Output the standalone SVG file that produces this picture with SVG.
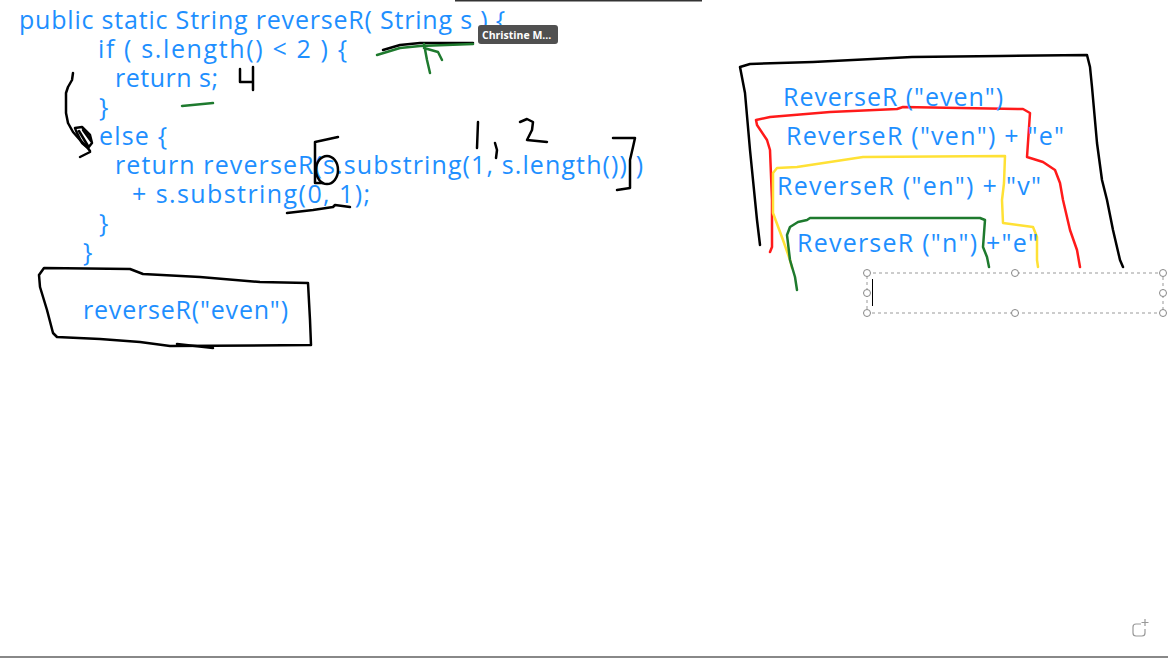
<svg xmlns="http://www.w3.org/2000/svg" width="1168" height="658" viewBox="0 0 1168 658">
<style>
.code{font-family:"Open Sans","Noto Sans","Liberation Sans",sans-serif;font-size:25px;fill:#1E8FFF}
.ink{fill:none;stroke:#000;stroke-width:2.5;stroke-linejoin:round;stroke-linecap:round}
.red{fill:none;stroke:#FF1A1A;stroke-width:2.5;stroke-linejoin:round;stroke-linecap:round}
.yel{fill:none;stroke:#FFE135;stroke-width:2.5;stroke-linejoin:round;stroke-linecap:round}
.grn{fill:none;stroke:#1E7A2E;stroke-width:2.5;stroke-linejoin:round;stroke-linecap:round}
.handle{fill:#fff;stroke:#888;stroke-width:1}
</style>
<rect width="1168" height="658" fill="#fff"/>
<line x1="455" y1="0.5" x2="702" y2="0.5" stroke="#333" stroke-width="2"/>
<line x1="0" y1="657" x2="1168" y2="657" stroke="#888" stroke-width="2"/>

<g id="code">
<text class="code" x="19" y="29" textLength="486" lengthAdjust="spacing">public static String reverseR( String s ) {</text>
<text class="code" x="98" y="58" textLength="249" lengthAdjust="spacing">if ( s.length() &lt; 2 ) {</text>
<text class="code" x="115" y="87" textLength="103" lengthAdjust="spacing">return s;</text>
<text class="code" x="99" y="116">}</text>
<text class="code" x="99" y="145" textLength="68" lengthAdjust="spacing">else {</text>
<text class="code" x="115" y="174" textLength="528" lengthAdjust="spacing">return reverseR(s.substring(1, s.length()) )</text>
<text class="code" x="132" y="203" textLength="238" lengthAdjust="spacing">+ s.substring(0, 1);</text>
<text class="code" x="99" y="232">}</text>
<text class="code" x="83" y="261">}</text>
</g>

<g id="call-box">
<path class="ink" d="M44,268 L130,269 L143,274 L200,277 L260,282 L308,283 L310,320 L311,345 L170,346 L140,342 L100,339 L57,337 L53,333 L47,310 L40,287 L39,275 Z"/>
<path class="ink" d="M177,344 L213,348"/>
<text class="code" x="83" y="319" textLength="205" lengthAdjust="spacing">reverseR("even")</text>
</g>

<g id="annotations">
<path class="ink" d="M383,50 L400,45 L420,43 L473,43"/>
<path class="grn" stroke-width="4" d="M377,55 L400,48 L420,46 L473,44"/>
<path class="grn" stroke-width="3" d="M424,44 L427,60 L430,73 M424,48 L438,52 L442,60"/>
<path class="grn" stroke-width="3.5" d="M182,106 L213,103"/>
<path class="ink" d="M240,69 L240,82 L253,82 M253,67 L253,90"/>
<path class="ink" d="M73,73 L72,80 L68,87 L66,93 L66,113 L68,123 L73,132 L80,140 L87,147 L90,151"/>
<path class="ink" d="M75,128 L82,127 L90,135 L92,143 L88,148 L82,143 L77,133 Z M79,131 L88,146 M83,130 L91,141 M80,157 L90,152"/>
<path class="ink" d="M315,142 L338,137 M315,142 L315,183 L323,183"/>
<ellipse class="ink" cx="327" cy="170" rx="11" ry="14"/>
<path class="ink" d="M287,213 L313,210 L333,207 L335,205 L350,207"/>
<path class="ink" d="M478,122 L477,148 M495,143 L497,150 L496,158"/>
<path class="ink" d="M520,122 L527,119 L533,122 L532,130 L527,140 L547,142"/>
<path class="ink" d="M613,138 L635,138 L633,147 L630,160 L630,188 L617,190"/>
</g>

<g id="tooltip">
<rect x="478" y="25" width="80" height="19" rx="3" fill="#505050"/>
<text x="482" y="38.5" font-family="'Open Sans','Noto Sans','Liberation Sans',sans-serif" font-size="10.5" font-weight="bold" fill="#fff">Christine M...</text>
</g>

<g id="stack">
<path class="ink" d="M760,245 L757,220 L753,180 L750,150 L745,93 L740,67 L750,64 L813,62 L912,57 L1000,56 L1087,55 L1090,67 L1092,87 L1097,143 L1102,180 L1107,200 L1113,230 L1120,260 L1123,267"/>
<path class="red" d="M770,252 L772,247 L772,200 L770,150 L767,140 L757,125 L756,120 L770,117 L830,112 L897,109 L903,107 L1023,109 L1030,113 L1027,157 L1043,162 L1055,170 L1060,183 L1063,200 L1070,230 L1077,250 L1080,267"/>
<path class="yel" d="M792,268 L790,260 L783,240 L773,213 L773,180 L773,173 L777,168 L797,167 L863,157 L1005,156 L1004,183 L1002,200 L1003,223 L1033,227 L1037,237 L1037,260 L1038,267"/>
<path class="grn" d="M797,290 L795,277 L790,260 L787,235 L790,227 L798,222 L807,220 L810,218 L980,218 L985,220 L983,247 L987,257 L989,267"/>
<text class="code" x="783" y="106" textLength="220" lengthAdjust="spacing">ReverseR ("even")</text>
<text class="code" x="786" y="145" textLength="278" lengthAdjust="spacing">ReverseR ("ven") + "e"</text>
<text class="code" x="777" y="195" textLength="264" lengthAdjust="spacing">ReverseR ("en") + "v"</text>
<text class="code" x="797" y="252" textLength="241" lengthAdjust="spacing">ReverseR ("n") +"e"</text>
</g>

<g id="textbox">
<rect x="867" y="273" width="296" height="40" fill="none" stroke="#999" stroke-width="1" stroke-dasharray="3,3"/>
<line x1="872.5" y1="279" x2="872.5" y2="306" stroke="#000" stroke-width="1"/>
<circle class="handle" cx="867" cy="273" r="3.5"/>
<circle class="handle" cx="1015" cy="273" r="3.5"/>
<circle class="handle" cx="1163" cy="273" r="3.5"/>
<circle class="handle" cx="867" cy="293" r="3.5"/>
<circle class="handle" cx="1163" cy="293" r="3.5"/>
<circle class="handle" cx="867" cy="313" r="3.5"/>
<circle class="handle" cx="1015" cy="313" r="3.5"/>
<circle class="handle" cx="1163" cy="313" r="3.5"/>
</g>

<g id="corner-icon">
<path d="M1141,624 L1136,624 Q1133,624 1133,627 L1133,633 Q1133,636 1136,636 L1142,636 Q1145,636 1145,633 L1145,629" fill="none" stroke="#999" stroke-width="1.2"/>
<path d="M1145,619 L1145,626 M1141.5,622.5 L1148.5,622.5" stroke="#999" stroke-width="1.2"/>
</g>
</svg>
